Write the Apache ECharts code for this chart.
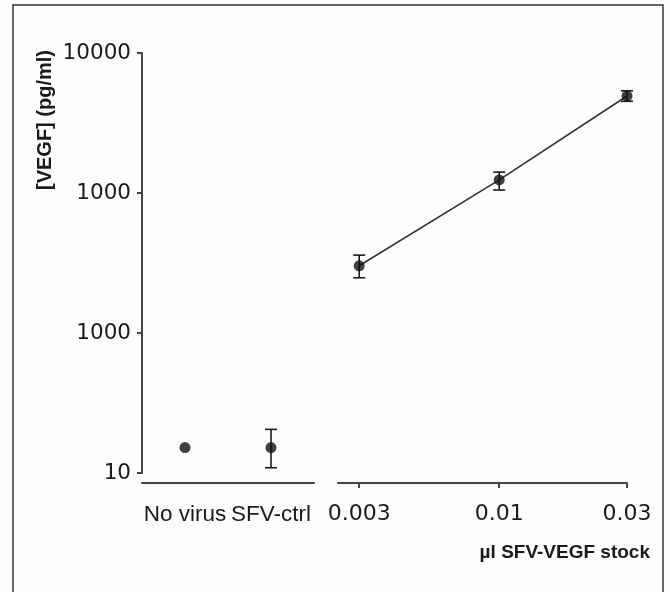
<!DOCTYPE html>
<html>
<head>
<meta charset="utf-8">
<script src="https://cdn.jsdelivr.net/npm/echarts@6/dist/echarts.min.js"></script>
<style>
  html, body { margin: 0; padding: 0; background: #fdfdfd; }
  #chart { width: 670px; height: 592px; }
</style>
</head>
<body>
<div id="chart"></div>
<script>
// controls (category part of the x axis)
const categories = ['No virus', 'SFV-ctrl'];
const ctrlMean = [15.2, 15.2];
const ctrlLow = [null, 10.9];
const ctrlHigh = [null, 20.5];

// SFV-VEGF doses (log part of the x axis)
const doses = [0.003, 0.01, 0.03];
const doseLabels = ['0.003', '0.01', '0.03'];
const doseMean = [302, 1240, 4930];
const doseLow = [248, 1050, 4520];
const doseHigh = [360, 1410, 5370];

// y ticks, labels as printed in the figure
const yTickValues = [10, 100, 1000, 10000];
const yTickLabels = ['10', '1000', '1000', '10000'];

const ink = '#1a1a1a';
const axisColor = '#444';

function yLabel(v) {
  const i = yTickValues.findIndex(t => Math.abs(t - v) / t < 1e-6);
  return i < 0 ? '' : yTickLabels[i];
}

function doseLabel(v) {
  const i = doses.findIndex(d => Math.abs(d - v) / d < 1e-6);
  return i < 0 ? '' : doseLabels[i];
}

function errorBar(params, api) {
  const x = api.value(0);
  const lo = api.coord([x, api.value(1)]);
  const hi = api.coord([x, api.value(2)]);
  const w = 6;
  const style = { stroke: ink, lineWidth: 1.6 };
  return {
    type: 'group',
    children: [
      { type: 'line', shape: { x1: lo[0], y1: lo[1], x2: hi[0], y2: hi[1] }, style: style },
      { type: 'line', shape: { x1: lo[0] - w, y1: lo[1], x2: lo[0] + w, y2: lo[1] }, style: style },
      { type: 'line', shape: { x1: hi[0] - w, y1: hi[1], x2: hi[0] + w, y2: hi[1] }, style: style }
    ]
  };
}

const chart = echarts.init(document.getElementById('chart'), null, { renderer: 'canvas' });

const ctrlErr = [];
categories.forEach((c, i) => {
  if (ctrlLow[i] != null) ctrlErr.push([i, ctrlLow[i], ctrlHigh[i]]);
});

const option = {
  backgroundColor: '#fdfdfd',
  animation: false,
  grid: [
    { left: 142, top: 53, width: 172, height: 420 },
    { left: 338, top: 53, width: 289, height: 420 }
  ],
  xAxis: [
    {
      type: 'category',
      gridIndex: 0,
      data: categories,
      boundaryGap: true,
      offset: 10,
      axisLine: { lineStyle: { color: axisColor, width: 2 } },
      axisTick: { show: false },
      axisLabel: {
        interval: 0,
        hideOverlap: false,
        color: ink, fontSize: 22.5, fontFamily: 'Liberation Sans', margin: 20
      }
    },
    {
      type: 'log',
      gridIndex: 1,
      logBase: 10,
      min: 0.0025,
      max: 0.03,
      offset: 10,
      axisLine: { lineStyle: { color: axisColor, width: 2 } },
      axisTick: { customValues: doses, length: 5, lineStyle: { color: axisColor, width: 2 } },
      axisLabel: {
        customValues: doses,
        formatter: doseLabel,
        color: ink, fontSize: 22, fontFamily: 'DejaVu Sans', margin: 20
      },
      splitLine: { show: false },
      minorTick: { show: false }
    }
  ],
  yAxis: [
    {
      type: 'log',
      gridIndex: 0,
      logBase: 10,
      min: 10,
      max: 10000,
      axisLine: { show: true, lineStyle: { color: axisColor, width: 2 } },
      axisTick: { show: true, length: 5, lineStyle: { color: axisColor, width: 2 } },
      axisLabel: { formatter: yLabel, color: ink, fontSize: 21.5, fontFamily: 'DejaVu Sans', margin: 11 },
      splitLine: { show: false }
    },
    {
      type: 'log',
      gridIndex: 1,
      logBase: 10,
      min: 10,
      max: 10000,
      show: false,
      splitLine: { show: false }
    }
  ],
  series: [
    {
      type: 'custom',
      xAxisIndex: 0,
      yAxisIndex: 0,
      renderItem: errorBar,
      data: ctrlErr,
      z: 2
    },
    {
      type: 'scatter',
      xAxisIndex: 0,
      yAxisIndex: 0,
      symbolSize: 11,
      itemStyle: { color: '#111' },
      data: ctrlMean.map((v, i) => [i, v]),
      z: 3
    },
    {
      type: 'line',
      xAxisIndex: 1,
      yAxisIndex: 1,
      symbol: 'none',
      lineStyle: { color: '#333', width: 1.6 },
      data: doses.map((d, i) => [d, doseMean[i]]),
      z: 1
    },
    {
      type: 'custom',
      xAxisIndex: 1,
      yAxisIndex: 1,
      renderItem: errorBar,
      data: doses.map((d, i) => [d, doseLow[i], doseHigh[i]]),
      z: 2
    },
    {
      type: 'scatter',
      xAxisIndex: 1,
      yAxisIndex: 1,
      symbolSize: 11,
      itemStyle: { color: '#111' },
      data: doses.map((d, i) => [d, doseMean[i]]),
      z: 3
    }
  ],
  graphic: [
    {
      type: 'rect',
      shape: { x: 13, y: 5, width: 650, height: 600 },
      style: { fill: 'none', stroke: '#333', lineWidth: 1.5 },
      silent: true
    },
    {
      type: 'text',
      x: 45,
      y: 120,
      rotation: Math.PI / 2,
      style: {
        text: '[VEGF] (pg/ml)',
        fill: ink,
        font: 'bold 20px "Liberation Sans"',
        align: 'center',
        verticalAlign: 'middle'
      }
    },
    {
      type: 'text',
      x: 650,
      y: 553,
      style: {
        text: 'µl SFV-VEGF stock',
        fill: ink,
        font: 'bold 19px "Liberation Sans"',
        align: 'right',
        verticalAlign: 'middle'
      }
    }
  ]
};

chart.setOption(option);
</script>
</body>
</html>
